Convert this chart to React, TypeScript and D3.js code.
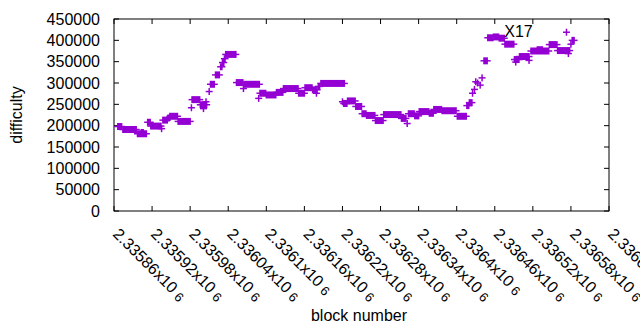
import React from 'react';
import * as d3 from 'd3';

// difficulty runs: consecutive blocks sharing one difficulty (start block, end block, value)
const runStart = [
  2335866, 2335874, 2335897, 2335903, 2335913, 2335918, 2335935, 2335937, 2335945, 2335948,
  2335961, 2335982, 2335983, 2335996, 2336001, 2336005, 2336010, 2336012, 2336020, 2336028,
  2336031, 2336034, 2336036, 2336053, 2336064, 2336065, 2336088, 2336090, 2336100, 2336116,
  2336127, 2336151, 2336161, 2336173, 2336179, 2336182, 2336186, 2336220, 2336222, 2336228,
  2336241, 2336251, 2336258, 2336272, 2336285, 2336313, 2336322, 2336324, 2336334, 2336341,
  2336357, 2336364, 2336377, 2336401, 2336416, 2336420, 2336425, 2336428, 2336430, 2336433,
  2336437, 2336440, 2336443, 2336449, 2336458, 2336467, 2336476, 2336491, 2336493, 2336499,
  2336514, 2336517, 2336527, 2336546, 2336559, 2336576, 2336573, 2336580, 2336582,
];
const runEnd = [
  2335872, 2335895, 2335911, 2335906, 2335917, 2335934, 2335935, 2335944, 2335947, 2335960,
  2335980, 2335982, 2335995, 2336006, 2336001, 2336005, 2336010, 2336018, 2336026, 2336030,
  2336033, 2336035, 2336052, 2336063, 2336064, 2336089, 2336088, 2336099, 2336115, 2336126,
  2336150, 2336160, 2336172, 2336180, 2336179, 2336184, 2336223, 2336220, 2336227, 2336240,
  2336250, 2336257, 2336271, 2336284, 2336312, 2336320, 2336322, 2336333, 2336340, 2336356,
  2336363, 2336376, 2336399, 2336415, 2336419, 2336424, 2336425, 2336428, 2336430, 2336433,
  2336437, 2336440, 2336448, 2336457, 2336466, 2336475, 2336490, 2336498, 2336493, 2336514,
  2336514, 2336545, 2336535, 2336558, 2336578, 2336576, 2336573, 2336580, 2336585,
];
const runDifficulty = [
  198000, 191000, 181000, 184000, 208000, 199000, 193000, 213000, 218000, 222000,
  210000, 242000, 261000, 249000, 240000, 256000, 280000, 297000, 319000, 338000,
  348000, 357000, 367000, 301000, 287000, 297000, 264000, 276000, 272000, 278000,
  287000, 276000, 289000, 284000, 276000, 292000, 299000, 256000, 252000, 258000,
  245000, 228000, 224000, 212000, 226000, 217000, 205000, 228000, 223000, 233000,
  229000, 238000, 235000, 222000, 247000, 254000, 276000, 285000, 303000, 300000,
  295000, 312000, 352000, 406000, 408000, 405000, 391000, 355000, 349000, 362000,
  353000, 375000, 378000, 390000, 376000, 369000, 419000, 391000, 400000,
];

const xTicks = d3.range(0, 14).map(i => 2335860 + i * 60);
const yTicks = d3.range(0, 450001, 50000);
const note = { label: 'X17', block: 2336475, difficulty: 408000 };

const W = 640;
const H = 330;
const margin = { top: 19, right: 31, bottom: 119, left: 114 };
const PURPLE = '#9400d3';
const FONT = '"Liberation Sans", Arial, sans-serif';

export default function App() {
  const x = d3.scaleLinear()
    .domain([xTicks[0], xTicks[xTicks.length - 1]])
    .range([margin.left, W - margin.right]);
  const y = d3.scaleLinear()
    .domain([0, 450000])
    .range([H - margin.bottom, margin.top]);

  const x0 = margin.left, x1 = W - margin.right;
  const y0 = H - margin.bottom, y1 = margin.top;
  const arm = 3.5;
  const half = 0.75;
  const tick = 5;

  const fmt = (v: number) => parseFloat((v / 1e6).toFixed(5)).toString();

  return (
    <svg width={W} height={H} style={{ position: 'absolute', left: 0, top: 0, background: '#fff' }}
      fontFamily={FONT}>
      {/* y ticks */}
      {yTicks.map(t => (
        <g key={'y' + t}>
          <line x1={x0} x2={x0 + tick} y1={y(t)} y2={y(t)} stroke="#000" />
          <line x1={x1} x2={x1 - tick} y1={y(t)} y2={y(t)} stroke="#000" />
          <text x={100} y={y(t)} dy="0.35em" textAnchor="end" fontSize={16} fill="#000">{t}</text>
        </g>
      ))}
      {/* x ticks */}
      {xTicks.map(t => (
        <g key={'x' + t}>
          <line x1={x(t)} x2={x(t)} y1={y0} y2={y0 - tick} stroke="#000" />
          <line x1={x(t)} x2={x(t)} y1={y1} y2={y1 + tick} stroke="#000" />
          <text transform={`translate(${x(t) - 2},${235}) rotate(45)`} fontSize={16} fill="#000">
            {fmt(t)}x10<tspan fontSize={13} dx={4} dy={1}>6</tspan>
          </text>
        </g>
      ))}
      <rect x={x0} y={y1} width={x1 - x0} height={y0 - y1} fill="none" stroke="#000" />

      {/* data */}
      <g fill={PURPLE} stroke={PURPLE}>
        {runStart.map((s, i) => {
          const xa = x(s), xb = x(runEnd[i]), yy = y(runDifficulty[i]);
          return (
            <g key={i}>
              <rect x={xa - half} y={yy - arm} width={xb - xa + 2 * half} height={2 * arm} stroke="none" />
              <line x1={xa - arm} x2={xb + arm} y1={yy} y2={yy} strokeWidth={1.5} />
            </g>
          );
        })}
      </g>

      <text x={x(note.block)} y={y(note.difficulty)} fontSize={16} fill="#000">{note.label}</text>

      <text transform={`translate(22,${(y0 + y1) / 2}) rotate(-90)`} textAnchor="middle" fontSize={16} fill="#000">difficulty</text>
      <text x={359} y={321} textAnchor="middle" fontSize={16} fill="#000">block number</text>
    </svg>
  );
}
